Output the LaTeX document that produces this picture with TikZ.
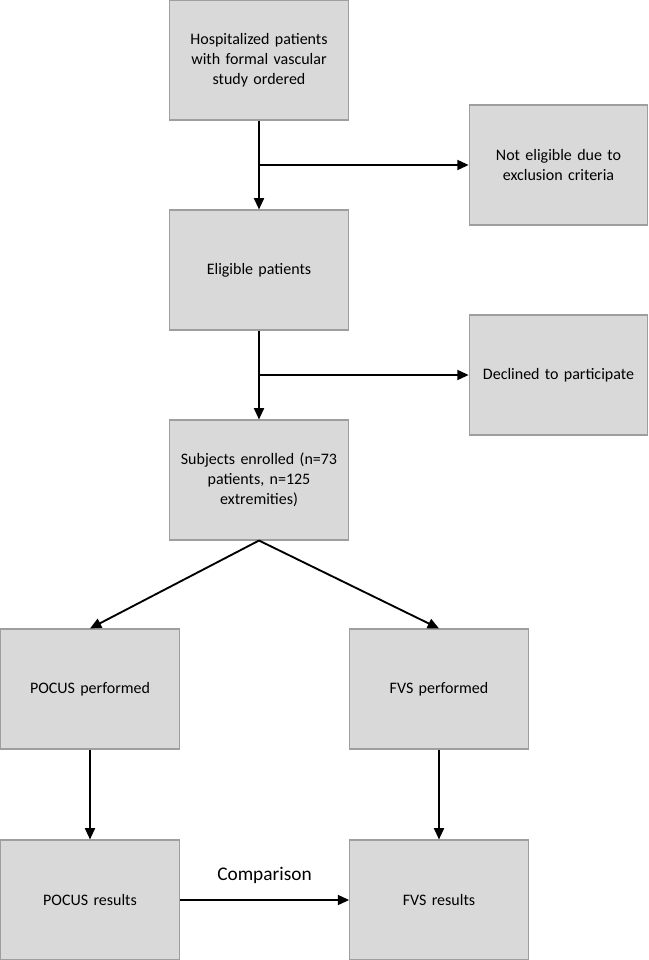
\documentclass[tikz,border=0pt]{standalone}
\usepackage{fontspec}
\setmainfont{Carlito}
\usetikzlibrary{arrows.meta}

\begin{document}
\begin{tikzpicture}[x=0.75pt, y=-0.75pt, >={Triangle[length=8.5pt,width=7.5pt]}, line width=1.4pt,
    box/.style={draw=black!38, line width=0.8pt, fill=black!15, minimum width=134pt, minimum height=90pt,
                text width=130pt, align=center, inner sep=0pt, font=\fontsize{12}{15}\selectfont}]
        \useasboundingbox (0,0) rectangle (649,960);

        % Boxes
        \node[box] (hosp)     at (259,60)    {Hospitalized patients\\with formal vascular\\study ordered};
        \node[box] (noteli)   at (558.5,165) {Not eligible due to\\exclusion criteria};
        \node[box] (elig)     at (259,270)   {Eligible patients};
        \node[box] (declined) at (558.5,375) {Declined to participate};
        \node[box] (subj)     at (259,480)   {Subjects enrolled (n=73\\patients, n=125\\extremities)};
        \node[box] (pocus)    at (90,689)    {POCUS performed};
        \node[box] (fvs)      at (439,689)   {FVS performed};
        \node[box] (pocusres) at (90,900)    {POCUS results};
        \node[box] (fvsres)   at (439,900)   {FVS results};

        % Arrows
        \draw[->] (hosp) -- (elig);
        \draw[->] (hosp.south |- noteli.west) -- (noteli.west);
        \draw[->] (elig) -- (subj);
        \draw[->] (elig.south |- declined.west) -- (declined.west);
        \draw[->] (subj.south) -- (pocus.north);
        \draw[->] (subj.south) -- (fvs.north);
        \draw[->] (pocus) -- (pocusres);
        \draw[->] (fvs) -- (fvsres);
        \draw[->] (pocusres) -- node[above=8pt, font=\fontsize{14.5}{17}\selectfont] (comp) {Comparison} (fvsres);
    \end{tikzpicture}
\end{document}
